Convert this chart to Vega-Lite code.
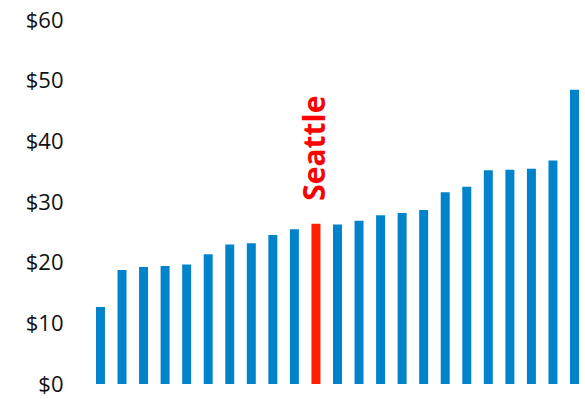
{
  "$schema": "https://vega.github.io/schema/vega-lite/v6.json",
  "autosize": {"type": "none"},
  "padding": {"left": 80, "top": 20, "right": 0, "bottom": 15},
  "width": 505,
  "height": 364,
  "background": "white",
  "config": {"view": {"stroke": null}},
  "data": {"values": [
    {"city": "c01", "cost": 12.7},
    {"city": "c02", "cost": 18.8},
    {"city": "c03", "cost": 19.3},
    {"city": "c04", "cost": 19.45},
    {"city": "c05", "cost": 19.7},
    {"city": "c06", "cost": 21.4},
    {"city": "c07", "cost": 23.0},
    {"city": "c08", "cost": 23.2},
    {"city": "c09", "cost": 24.55},
    {"city": "c10", "cost": 25.5},
    {"city": "Seattle", "cost": 26.4},
    {"city": "c12", "cost": 26.3},
    {"city": "c13", "cost": 26.9},
    {"city": "c14", "cost": 27.8},
    {"city": "c15", "cost": 28.2},
    {"city": "c16", "cost": 28.7},
    {"city": "c17", "cost": 31.6},
    {"city": "c18", "cost": 32.5},
    {"city": "c19", "cost": 35.25},
    {"city": "c20", "cost": 35.3},
    {"city": "c21", "cost": 35.5},
    {"city": "c22", "cost": 36.85},
    {"city": "c23", "cost": 48.5}
  ]},
  "encoding": {
    "x": {
      "field": "city", "type": "nominal", "sort": null,
      "scale": {"paddingInner": 0.583, "paddingOuter": 0.51, "align": 0.727},
      "axis": null
    },
    "y": {
      "field": "cost", "type": "quantitative",
      "scale": {"domain": [0, 60], "nice": false},
      "axis": {
        "values": [0, 10, 20, 30, 40, 50, 60],
        "labelExpr": "'$' + datum.value",
        "domain": false, "ticks": false, "grid": false, "title": null,
        "labelFont": "Open Sans", "labelFontSize": 22, "labelColor": "#111111",
        "labelPadding": 17, "labelFlush": false, "labelOverlap": false
      }
    }
  },
  "layer": [
    {
      "mark": {"type": "bar"},
      "encoding": {
        "color": {
          "condition": {"test": "datum.city === 'Seattle'", "value": "#FF2000"},
          "value": "#0083CB"
        }
      }
    },
    {
      "transform": [{"filter": "datum.city === 'Seattle'"}],
      "mark": {
        "type": "text", "angle": 270, "align": "left", "baseline": "middle",
        "yOffset": -23, "font": "Open Sans", "fontWeight": "bold",
        "fontSize": 30, "color": "#FF0000"
      },
      "encoding": {"text": {"field": "city"}}
    }
  ]
}
